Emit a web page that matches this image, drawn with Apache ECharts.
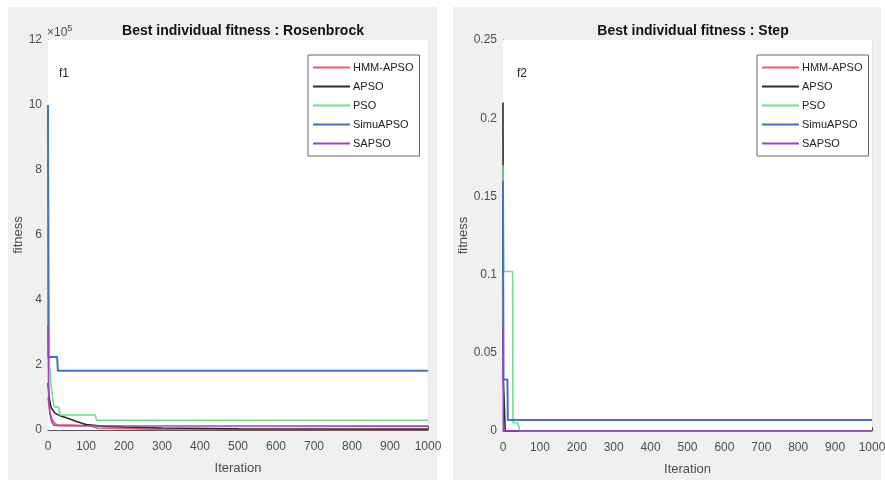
<!DOCTYPE html>
<html><head><meta charset="utf-8">
<script src="https://cdn.jsdelivr.net/npm/echarts@6/dist/echarts.min.js"></script>
<style>html,body{margin:0;padding:0;background:#fff}#c{width:885px;height:480px}</style>
</head><body><div id="c"></div>
<script>
// Series names
const seriesNames = ['HMM-APSO', 'APSO', 'PSO', 'SimuAPSO', 'SAPSO'];
const seriesColors = ['#f25a5a', '#2b2b2b', '#72dc8c', '#4472c4', '#a43cc8'];

// Rosenbrock (fitness in units of 1e5): [iteration, value]
const rosHMM = [[0,1.0],[2,0.8],[5,0.55],[10,0.35],[15,0.25],[22,0.16],[60,0.15],[110,0.13],[130,0.06],[300,0.02],[1000,0.01]];
const rosAPSO = [[0,1.45],[3,1.0],[8,0.7],[18,0.52],[30,0.45],[50,0.37],[75,0.26],[100,0.17],[140,0.12],[200,0.09],[300,0.06],[500,0.04],[1000,0.03]];
const rosPSO = [[0,10.0],[2,5.0],[4,2.0],[8,1.35],[12,1.0],[16,0.72],[28,0.7],[32,0.46],[124,0.46],[128,0.3],[1000,0.3]];
const rosSimu = [[0,10.0],[1,2.25],[24,2.25],[26,1.82],[1000,1.82]];
const rosSAPSO = [[0,3.2],[2,1.0],[5,0.5],[10,0.25],[15,0.15],[30,0.13],[1000,0.12]];

// Step: [iteration, value]
const stepHMM = [[0,0],[1000,0]];
const stepAPSO = [[0,0.21],[1,0.033],[5,0.033],[6,0],[1000,0]];
const stepPSO = [[0,0.17],[2,0.102],[26,0.102],[27,0.0053],[40,0.0053],[46,0],[1000,0]];
const stepSimu = [[0,0.16],[1,0.033],[12,0.033],[13,0.007],[1000,0.007]];
const stepSAPSO = [[0,0.066],[1,0],[1000,0]];

// Axis ticks
const xTicks = {min: 0, max: 1000, interval: 100};
const rosY = {min: 0, max: 12, interval: 2};
const stepY = {min: 0, max: 0.25, interval: 0.05};

const FONT = 'Liberation Sans, Arial, sans-serif';
const labelColor = '#4d4d4d';

function xAxisCfg(gi) {
  return {
    type: 'value', gridIndex: gi, min: xTicks.min, max: xTicks.max, interval: xTicks.interval,
    name: 'Iteration', nameLocation: 'middle', nameGap: 32,
    nameTextStyle: {fontFamily: FONT, fontSize: 13, color: labelColor},
    axisLine: {show: true, onZero: false, lineStyle: {color: '#555', width: 1}},
    axisTick: {show: true, inside: true, length: 4, lineStyle: {color: '#555'}},
    axisLabel: {fontFamily: FONT, fontSize: 12, color: labelColor, margin: 11, formatter: v => String(v)},
    splitLine: {show: true, lineStyle: {color: '#e6e6e6', width: 1}}
  };
}
function yAxisCfg(gi, r) {
  return {
    type: 'value', gridIndex: gi, min: r.min, max: r.max, interval: r.interval,
    name: 'fitness', nameLocation: 'middle', nameGap: gi === 0 ? 18 : 26, nameRotate: 90,
    nameTextStyle: {fontFamily: FONT, fontSize: 13, color: labelColor},
    axisLine: {show: true, onZero: false, lineStyle: {color: '#555', width: 1}},
    axisTick: {show: true, inside: true, length: 4, lineStyle: {color: '#555'}},
    axisLabel: {fontFamily: FONT, fontSize: 12, color: labelColor, margin: 6},
    splitLine: {show: true, lineStyle: {color: '#e6e6e6', width: 1}}
  };
}
function mk(name, data, gi, idx) {
  return {
    name: name, type: 'line', data: data, xAxisIndex: gi, yAxisIndex: gi,
    showSymbol: false, symbol: 'none', animation: false,
    lineStyle: {color: seriesColors[idx], width: idx === 3 ? 2 : 1.6},
    itemStyle: {color: seriesColors[idx]}, z: 3 + idx
  };
}
const rosData = [rosHMM, rosAPSO, rosPSO, rosSimu, rosSAPSO];
const stepData = [stepHMM, stepAPSO, stepPSO, stepSimu, stepSAPSO];
const series = [];
seriesNames.forEach((n, i) => series.push(mk(n, rosData[i], 0, i)));
seriesNames.forEach((n, i) => series.push(mk(n, stepData[i], 1, i)));

function legendCfg(left, top) {
  return {
    orient: 'vertical', left: left, top: top, data: seriesNames,
    backgroundColor: '#fff', borderColor: '#666', borderWidth: 1,
    padding: [7, 6, 7, 5], itemGap: 8, itemWidth: 37, itemHeight: 2, icon: 'rect',
    textStyle: {fontFamily: FONT, fontSize: 11, color: '#222', padding: [0,0,0,-2]},
    selectedMode: false
  };
}

const chart = echarts.init(document.getElementById('c'), null, {renderer: 'canvas'});
chart.setOption({
  backgroundColor: '#fff',
  animation: false,
  grid: [
    {left: 48, top: 40, width: 380, height: 390, show: true, backgroundColor: '#fff', borderWidth: 0, z: 1, outerBoundsMode: 'none', containLabel: false},
    {left: 503, top: 40, width: 369, height: 391, show: true, backgroundColor: '#fff', borderWidth: 0, z: 1, outerBoundsMode: 'none', containLabel: false}
  ],
  title: [
    {text: 'Best individual fitness : Rosenbrock', left: 238, top: 19, textAlign: 'center',
     textStyle: {fontFamily: FONT, fontSize: 14, fontWeight: 'bold', color: '#111'}},
    {text: 'Best individual fitness : Step', left: 688, top: 19, textAlign: 'center',
     textStyle: {fontFamily: FONT, fontSize: 14, fontWeight: 'bold', color: '#111'}}
  ],
  legend: [legendCfg(308, 55), legendCfg(757, 55)],
  xAxis: [xAxisCfg(0), xAxisCfg(1)],
  yAxis: [yAxisCfg(0, rosY), yAxisCfg(1, stepY)],
  series: series,
  graphic: [
    {type: 'rect', shape: {x: 8, y: 7, width: 429, height: 473}, style: {fill: '#f0f0f0'}, z: -10, silent: true},
    {type: 'rect', shape: {x: 453, y: 7, width: 428, height: 473}, style: {fill: '#f0f0f0'}, z: -10, silent: true},
    {type: 'text', left: 47, top: 24, z: 10, style: {
      text: '×10{s|5}', fontFamily: FONT, fontSize: 12, fill: labelColor,
      rich: {s: {fontSize: 9, verticalAlign: 'top', padding: [0,0,8,0], fill: labelColor}}}},
    {type: 'text', left: 59, top: 68, z: 10, style: {text: 'f1', fontFamily: FONT, fontSize: 12, fill: '#222'}},
    {type: 'text', left: 517, top: 68, z: 10, style: {text: 'f2', fontFamily: FONT, fontSize: 12, fill: '#222'}}
  ]
});
</script></body></html>
